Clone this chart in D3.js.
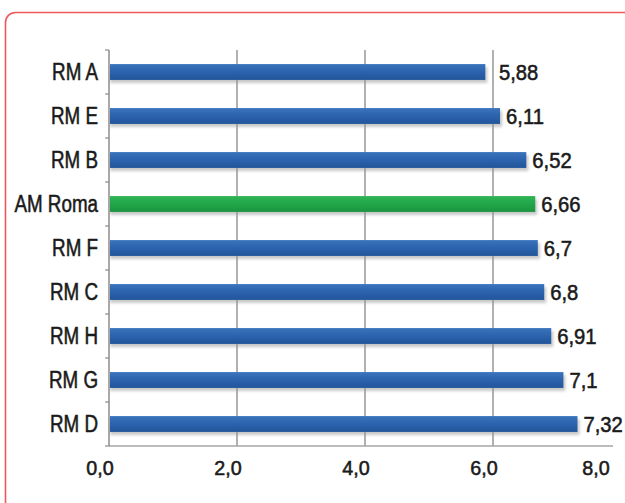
<!DOCTYPE html>
<html>
<head>
<meta charset="utf-8">
<script src="https://cdn.jsdelivr.net/npm/d3@7"></script>
<style>
  html, body { margin: 0; padding: 0; background: #ffffff; }
  svg { display: block; }
  text { font-family: "Liberation Sans", Arial, sans-serif; fill: #1a1a1a; stroke: #1a1a1a; stroke-width: 0.55px; }
</style>
</head>
<body>
<svg id="chart" width="625" height="503"></svg>
<script>
// Categories and their scores, top to bottom
const categories = ["RM A", "RM E", "RM B", "AM Roma", "RM F", "RM C", "RM H", "RM G", "RM D"];
const values = [5.88, 6.11, 6.52, 6.66, 6.7, 6.8, 6.91, 7.1, 7.32];
const valueLabels = ["5,88", "6,11", "6,52", "6,66", "6,7", "6,8", "6,91", "7,1", "7,32"];
const highlighted = ["AM Roma"];
const xTicks = [0, 2, 4, 6, 8];
const xTickLabels = ["0,0", "2,0", "4,0", "6,0", "8,0"];

const svg = d3.select("#chart");

// Rounded red frame
svg.append("rect")
  .attr("x", 5.5).attr("y", 12.5)
  .attr("width", 640).attr("height", 520)
  .attr("rx", 10).attr("ry", 10)
  .attr("fill", "none")
  .attr("stroke", "#f0575c")
  .attr("stroke-width", 1.6);

const plotLeft = 109, plotTop = 50, plotBottom = 446, axisEnd = 613;
const x = d3.scaleLinear().domain([0, 8]).range([plotLeft, 621]);
const y = d3.scaleBand().domain(categories).range([plotTop, plotBottom]).paddingInner(0.64).paddingOuter(0.32);
const gridTicks = xTicks.filter(t => x(t) > plotLeft && x(t) < axisEnd);

// Condensed text: narrow the glyphs horizontally around the anchor point
function place(sel, xf, yf, sx) {
  sel.attr("x", 0).attr("y", 0)
    .attr("transform", (d, i) => `translate(${xf(d, i)},${yf(d, i)}) scale(${sx},1)`);
}

// Gradients for bar faces
const defs = svg.append("defs");
function grad(id, stops) {
  const gr = defs.append("linearGradient").attr("id", id)
    .attr("x1", 0).attr("y1", 0).attr("x2", 0).attr("y2", 1);
  stops.forEach(([o, c]) => gr.append("stop").attr("offset", o).attr("stop-color", c));
}
grad("blueFace", [[0, "#3b74bd"], [0.45, "#2c64ae"], [1, "#22559a"]]);
grad("greenFace", [[0, "#2fb356"], [0.45, "#22a84a"], [1, "#1b9440"]]);
const blur = defs.append("filter").attr("id", "shadow").attr("x", "-5%").attr("y", "-50%").attr("width", "110%").attr("height", "200%");
blur.append("feGaussianBlur").attr("stdDeviation", 1.4);

const g = svg.append("g");

// Vertical gridlines
g.selectAll("line.grid")
  .data(gridTicks)
  .join("line")
  .attr("class", "grid")
  .attr("x1", d => x(d)).attr("x2", d => x(d))
  .attr("y1", plotTop).attr("y2", plotBottom)
  .attr("stroke", "#7f7b7b").attr("stroke-width", 1.2);

// Bottom axis line
g.append("line")
  .attr("x1", plotLeft).attr("x2", axisEnd)
  .attr("y1", plotBottom).attr("y2", plotBottom)
  .attr("stroke", "#a8a4a4").attr("stroke-width", 1.5);

// Left axis line and category separator ticks
g.append("line")
  .attr("x1", plotLeft).attr("x2", plotLeft)
  .attr("y1", plotTop).attr("y2", plotBottom)
  .attr("stroke", "#8f8b8b").attr("stroke-width", 1.5);
const step = y.step();
g.selectAll("line.sep")
  .data(d3.range(categories.length + 1))
  .join("line")
  .attr("class", "sep")
  .attr("x1", plotLeft - 4).attr("x2", plotLeft)
  .attr("y1", i => plotTop + i * step).attr("y2", i => plotTop + i * step)
  .attr("stroke", "#8f8b8b").attr("stroke-width", 1.2);

const rows = categories.map((c, i) => ({ c, v: values[i], label: valueLabels[i] }));

// Bar shadows
g.selectAll("rect.shadow")
  .data(rows)
  .join("rect")
  .attr("class", "shadow")
  .attr("x", x(0) + 1)
  .attr("y", d => y(d.c) + 3)
  .attr("width", d => x(d.v) - x(0) + 1)
  .attr("height", y.bandwidth())
  .attr("fill", "#9a9a9a")
  .attr("opacity", 0.55)
  .attr("filter", "url(#shadow)");

// Bars
g.selectAll("rect.bar")
  .data(rows)
  .join("rect")
  .attr("class", "bar")
  .attr("x", x(0) + 1)
  .attr("y", d => y(d.c))
  .attr("width", d => x(d.v) - x(0) - 1)
  .attr("height", y.bandwidth())
  .attr("fill", d => highlighted.includes(d.c) ? "url(#greenFace)" : "url(#blueFace)");

// Value label position: just past the bar end, hopping over a gridline it would sit on
function labelX(v) {
  let lx = x(v) + 6;
  gridTicks.forEach(t => { if (lx < x(t) + 2 && lx > x(t) - 8) lx = x(t) + 6; });
  return lx;
}

// Value labels
g.selectAll("text.val")
  .data(rows)
  .join("text")
  .attr("class", "val")
  .attr("dy", "0.36em")
  .attr("font-size", 22)
  .text(d => d.label)
  .call(place, d => labelX(d.v), d => y(d.c) + y.bandwidth() / 2, 0.92);

// Category labels
g.selectAll("text.cat")
  .data(categories)
  .join("text")
  .attr("class", "cat")
  .attr("dy", "0.36em")
  .attr("text-anchor", "end")
  .attr("font-size", 23.5)
  .text(d => d)
  .call(place, () => plotLeft - 11, d => y(d) + y.bandwidth() / 2, 0.8);

// X tick labels (the last one is pulled inside the frame)
g.selectAll("text.tick")
  .data(xTicks)
  .join("text")
  .attr("class", "tick")
  .attr("dy", "0.36em")
  .attr("text-anchor", "middle")
  .attr("font-size", 21)
  .text((d, i) => xTickLabels[i])
  .call(place, (d, i) => i === xTicks.length - 1 ? 596 : x(d) - 9, () => 467, 0.94);
</script>
</body>
</html>
